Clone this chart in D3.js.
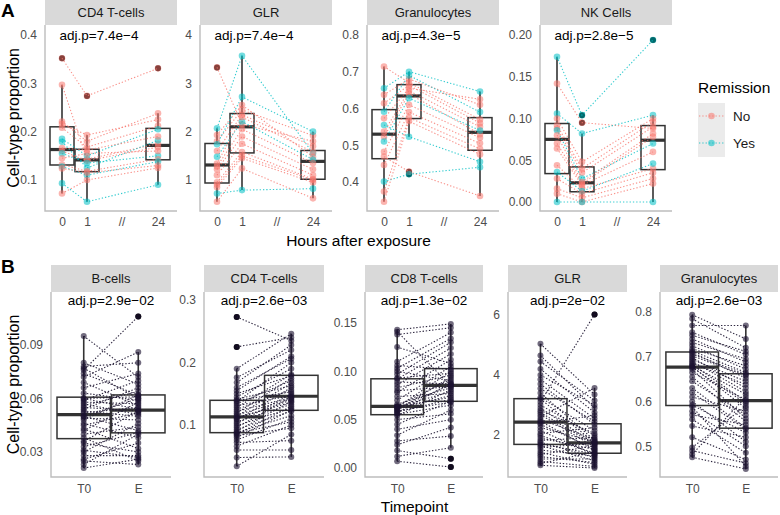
<!DOCTYPE html>
<html><head><meta charset="utf-8">
<script src="https://cdn.jsdelivr.net/npm/d3@7"></script>
<style>
body{margin:0;background:#fff}
svg{display:block}
text{font-family:"Liberation Sans",Arial,Helvetica,sans-serif}
</style>
</head><body>
<svg id="chart" width="780" height="515"></svg>
<script>
// ---------------- DATA ----------------
const remissionGroups = ["No", "Yes"];
const hoursA = [0, 1, 24];
const hourTickValuesA = [0, 1, 12.2, 24];
const hourLabelsA = ["0", "1", "//", "24"];
const cellTypesA = ["CD4 T-cells", "GLR", "Granulocytes", "NK Cells"];
const adjPA = ["adj.p=7.4e\u22124", "adj.p=7.4e\u22124", "adj.p=4.3e\u22125", "adj.p=2.8e\u22125"];
const ticksA = [[0.1, 0.2, 0.3, 0.4], [1, 2, 3, 4], [0.4, 0.5, 0.6, 0.7, 0.8], [0, 0.05, 0.1, 0.15, 0.2]];

const cd4A_remission = ["No","No","No","No","No","Yes","Yes","No","No","Yes","No","No","Yes","No","Yes","No"];
const cd4A_0h  = [0.352,0.297,0.221,0.216,0.208,0.185,0.179,0.166,0.160,0.155,0.145,0.132,0.128,0.124,0.093,0.072];
const cd4A_1h  = [0.274,0.143,0.180,0.193,0.168,0.150,0.125,0.162,0.140,0.135,0.155,0.118,0.110,0.115,0.055,0.100];
const cd4A_24h = [0.331,0.175,0.238,0.225,0.212,0.205,0.182,0.190,0.168,0.150,0.160,0.143,0.138,0.130,0.090,0.125];

const glrA_remission = ["No","Yes","No","No","Yes","No","Yes","No","No","No","No","No","No","No","Yes","No"];
const glrA_0h  = [3.33,2.07,1.93,1.80,1.74,1.60,1.48,1.34,1.28,1.22,1.10,0.95,0.90,0.85,0.72,0.55];
const glrA_1h  = [2.15,3.57,2.55,2.45,2.72,2.35,2.21,2.30,2.05,1.90,1.75,1.58,1.50,1.45,0.79,1.24];
const glrA_24h = [1.80,1.55,1.48,1.92,2.00,1.70,1.42,1.58,1.35,1.22,1.10,1.02,1.00,0.95,0.82,0.62];

const granA_remission = ["No","Yes","No","No","Yes","No","Yes","No","No","Yes","No","No","No","Yes","No","No"];
const granA_0h  = [0.714,0.655,0.637,0.614,0.591,0.573,0.555,0.537,0.523,0.510,0.482,0.469,0.446,0.401,0.374,0.346];
const granA_1h  = [0.670,0.700,0.680,0.663,0.690,0.655,0.523,0.648,0.640,0.628,0.610,0.428,0.590,0.421,0.575,0.565];
const granA_24h = [0.570,0.646,0.610,0.560,0.590,0.625,0.455,0.550,0.530,0.540,0.520,0.362,0.505,0.440,0.490,0.475];

const nkA_remission = ["Yes","No","Yes","No","No","No","Yes","No","No","No","No","Yes","No","No","No","Yes"];
const nkA_0h  = [0.174,0.142,0.106,0.100,0.092,0.088,0.086,0.080,0.070,0.064,0.044,0.036,0.028,0.016,0.010,0.000];
const nkA_1h  = [0.104,0.095,0.082,0.048,0.040,0.035,0.028,0.024,0.022,0.020,0.016,0.013,0.010,0.005,0.000,0.000];
const nkA_24h = [0.194,0.088,0.104,0.100,0.096,0.090,0.070,0.082,0.078,0.060,0.040,0.046,0.035,0.028,0.022,0.000];

const timepointsB = ["T0", "E"];
const cellTypesB = ["B-cells", "CD4 T-cells", "CD8 T-cells", "GLR", "Granulocytes"];
const adjPB = ["adj.p=2.9e\u221202", "adj.p=2.6e\u221203", "adj.p=1.3e\u221202", "adj.p=2e\u221202", "adj.p=2.6e\u221203"];
const ticksB = [[0.03, 0.06, 0.09], [0.1, 0.2, 0.3], [0, 0.05, 0.1, 0.15], [2, 4, 6], [0.5, 0.6, 0.7, 0.8]];

const bcellsB_T0 = [0.021,0.023,0.025,0.026,0.028,0.030,0.031,0.033,0.035,0.036,0.038,0.040,0.042,0.043,0.045,0.046,0.048,0.049,0.050,0.050,0.052,0.053,0.054,0.055,0.056,0.057,0.058,0.059,0.060,0.060,0.063,0.066,0.069,0.072,0.074,0.076,0.077,0.078,0.080,0.095];
const bcellsB_E  = [0.026,0.040,0.023,0.035,0.028,0.046,0.027,0.041,0.030,0.053,0.025,0.044,0.058,0.032,0.052,0.038,0.062,0.048,0.042,0.060,0.055,0.050,0.066,0.053,0.064,0.051,0.057,0.070,0.054,0.061,0.059,0.074,0.056,0.086,0.062,0.106,0.060,0.080,0.068,0.072];

const cd4B_T0 = [0.034,0.048,0.060,0.066,0.072,0.076,0.080,0.083,0.085,0.087,0.088,0.090,0.093,0.096,0.099,0.102,0.105,0.108,0.110,0.112,0.114,0.116,0.119,0.122,0.125,0.128,0.131,0.134,0.137,0.139,0.141,0.145,0.150,0.155,0.160,0.168,0.176,0.190,0.225,0.273];
const cd4B_E  = [0.085,0.049,0.060,0.100,0.075,0.110,0.124,0.095,0.130,0.105,0.115,0.138,0.122,0.145,0.127,0.150,0.133,0.160,0.140,0.136,0.167,0.142,0.175,0.144,0.156,0.181,0.147,0.171,0.200,0.153,0.163,0.190,0.179,0.210,0.206,0.228,0.220,0.246,0.240,0.235];

const cd8B_T0 = [0.007,0.012,0.018,0.024,0.028,0.034,0.040,0.045,0.050,0.054,0.0555,0.057,0.058,0.059,0.060,0.061,0.062,0.063,0.063,0.0635,0.064,0.066,0.070,0.074,0.078,0.080,0.083,0.086,0.089,0.092,0.093,0.097,0.100,0.103,0.106,0.110,0.125,0.138,0.141,0.143];
const cd8B_E  = [0.001,0.021,0.0096,0.042,0.033,0.060,0.050,0.0693,0.056,0.081,0.065,0.088,0.071,0.068,0.094,0.075,0.086,0.100,0.079,0.073,0.092,0.083,0.105,0.077,0.112,0.084,0.096,0.118,0.087,0.124,0.098,0.130,0.090,0.134,0.102,0.140,0.108,0.145,0.085,0.149];

const glrB_T0 = [0.99,1.05,1.12,1.20,1.28,1.35,1.42,1.50,1.58,1.65,1.70,1.76,1.82,1.90,1.98,2.05,2.15,2.25,2.35,2.40,2.46,2.52,2.60,2.68,2.75,2.82,2.90,3.00,3.10,3.20,3.25,3.40,3.55,3.70,3.85,4.00,4.20,4.45,4.65,5.04];
const glrB_E  = [0.90,1.44,0.95,1.20,1.08,1.64,1.02,1.30,1.73,1.14,1.37,1.25,1.92,1.52,1.40,2.25,1.34,1.78,1.56,2.65,1.48,1.86,3.57,1.60,1.68,2.05,1.71,1.98,6.02,1.75,2.15,1.82,2.45,2.35,2.55,3.00,2.75,3.15,2.90,3.35];

const granB_T0 = [0.475,0.482,0.490,0.497,0.520,0.545,0.560,0.570,0.578,0.588,0.592,0.600,0.610,0.620,0.630,0.645,0.655,0.665,0.672,0.676,0.678,0.680,0.683,0.686,0.690,0.694,0.698,0.702,0.706,0.710,0.713,0.718,0.725,0.732,0.740,0.748,0.755,0.770,0.785,0.794];
const granB_E  = [0.449,0.610,0.462,0.590,0.470,0.520,0.485,0.548,0.500,0.455,0.530,0.510,0.578,0.538,0.541,0.570,0.555,0.604,0.562,0.596,0.585,0.616,0.600,0.638,0.622,0.645,0.630,0.658,0.661,0.652,0.665,0.680,0.672,0.695,0.688,0.712,0.705,0.770,0.720,0.740];

// ---------------- BUILD ----------------
const facetsA = [
  {rem: cd4A_remission, series: [cd4A_0h, cd4A_1h, cd4A_24h], domain: [0.0358, 0.4207], fmt: d3.format(".1f")},
  {rem: glrA_remission, series: [glrA_0h, glrA_1h, glrA_24h], domain: [0.358, 4.207], fmt: d3.format("d")},
  {rem: granA_remission, series: [granA_0h, granA_1h, granA_24h], domain: [0.321, 0.827], fmt: d3.format(".1f")},
  {rem: nkA_remission, series: [nkA_0h, nkA_1h, nkA_24h], domain: [-0.0108, 0.212], fmt: d3.format(".2f")}
];
const facetsB = [
  {series: [bcellsB_T0, bcellsB_E], domain: [0.016, 0.1197], fmt: d3.format(".2f")},
  {series: [cd4B_T0, cd4B_E], domain: [0.0168, 0.3128], fmt: d3.format(".1f")},
  {series: [cd8B_T0, cd8B_E], domain: [-0.0093, 0.182], fmt: d3.format(".2f")},
  {series: [glrB_T0, glrB_E], domain: [0.6, 6.77], fmt: d3.format("d")},
  {series: [granB_T0, granB_E], domain: [0.431, 0.845], fmt: d3.format(".1f")}
];

const colour = d3.scaleOrdinal().domain(remissionGroups).range(["#F8766D", "#00BFC4"]);
const AXIS_COL = "#BDBDBD", TICK_TXT = "#4D4D4D", STRIP = "#D9D9D9", BOX = "#333333";
const svg = d3.select("#chart");

function boxStats(vals) {
  const s = vals.slice().sort(d3.ascending);
  const q1 = d3.quantileSorted(s, 0.25), med = d3.quantileSorted(s, 0.5), q3 = d3.quantileSorted(s, 0.75);
  const iqr = q3 - q1, lo = q1 - 1.5 * iqr, hi = q3 + 1.5 * iqr;
  const inside = s.filter(v => v >= lo && v <= hi);
  return {q1, med, q3, wlo: d3.min(inside), whi: d3.max(inside), out: s.filter(v => v < lo || v > hi)};
}

function drawBox(g, vals, cx, w, y) {
  const st = boxStats(vals);
  g.append("line").attr("x1", cx).attr("x2", cx).attr("y1", y(st.q3)).attr("y2", y(st.whi))
    .attr("stroke", BOX).attr("stroke-width", 1.6);
  g.append("line").attr("x1", cx).attr("x2", cx).attr("y1", y(st.q1)).attr("y2", y(st.wlo))
    .attr("stroke", BOX).attr("stroke-width", 1.6);
  g.append("rect").attr("x", cx - w / 2).attr("y", y(st.q3)).attr("width", w)
    .attr("height", y(st.q1) - y(st.q3)).attr("fill", "none").attr("stroke", BOX).attr("stroke-width", 1.5);
  g.append("line").attr("x1", cx - w / 2).attr("x2", cx + w / 2).attr("y1", y(st.med)).attr("y2", y(st.med))
    .attr("stroke", BOX).attr("stroke-width", 3.2);
  g.selectAll(null).data(st.out).enter().append("circle")
    .attr("cx", cx).attr("cy", d => y(d)).attr("r", 3).attr("fill", "#000");
}

function strip(L, W, top, h, label) {
  svg.append("rect").attr("x", L).attr("y", top).attr("width", W).attr("height", h).attr("fill", STRIP);
  svg.append("text").attr("x", L + W / 2).attr("y", top + h / 2).attr("dy", "0.35em")
    .attr("text-anchor", "middle").attr("font-size", 13).attr("fill", "#1A1A1A").text(label);
}

function axisLines(L, R, top, bot) {
  svg.append("path").attr("d", `M${L},${top}V${bot}H${R}`).attr("fill", "none")
    .attr("stroke", AXIS_COL).attr("stroke-width", 1.4);
}

function styleAxis(sel) {
  sel.select(".domain").remove();
  sel.selectAll("text").attr("font-size", 12).attr("fill", TICK_TXT)
    .attr("font-family", '"Liberation Sans",Arial,sans-serif');
}

// ---------------- PANEL A ----------------
const A_TOP = 25, A_BOT = 211, A_LEFTS = [45, 200, 367, 540], A_W = 132;
const lineGen = d3.line();

facetsA.forEach((f, i) => {
  const L = A_LEFTS[i], R = L + A_W;
  const x = d3.scaleLinear().domain([0, 1, 24]).range([L + 17, L + 42, L + 113]);
  const y = d3.scaleLinear().domain(f.domain).range([A_BOT, A_TOP]);
  strip(L, A_W, 0, 25, cellTypesA[i]);
  axisLines(L, R, A_TOP, A_BOT);
  svg.append("g").attr("transform", `translate(${L},0)`)
    .call(d3.axisLeft(y).tickValues(ticksA[i]).tickFormat(f.fmt).tickSize(0).tickPadding(8)).call(styleAxis);
  svg.append("g").attr("transform", `translate(0,${A_BOT})`)
    .call(d3.axisBottom(x).tickValues(hourTickValuesA).tickFormat((d, k) => hourLabelsA[k]).tickSize(0).tickPadding(6))
    .call(styleAxis);
  const g = svg.append("g");
  hoursA.forEach((h, j) => drawBox(g, f.series[j], x(h), 24, y));
  const n = f.rem.length;
  const subj = d3.range(n).map(k => ({rem: f.rem[k], pts: hoursA.map((h, j) => [x(h), y(f.series[j][k])])}));
  g.selectAll(null).data(subj).enter().append("path")
    .attr("d", d => lineGen(d.pts)).attr("fill", "none").attr("stroke", d => colour(d.rem))
    .attr("stroke-width", 1.1).attr("stroke-dasharray", "1.3,2").attr("opacity", 0.8);
  subj.forEach(s => {
    g.selectAll(null).data(s.pts).enter().append("circle")
      .attr("cx", p => p[0]).attr("cy", p => p[1]).attr("r", 3.3)
      .attr("fill", colour(s.rem)).attr("opacity", 0.55);
  });
  svg.append("text").attr("x", L + 54).attr("y", A_TOP + 10).attr("dy", "0.35em")
    .attr("text-anchor", "middle").attr("font-size", 13.5).attr("fill", "#000").text(adjPA[i]);
});

svg.append("text").attr("x", (A_LEFTS[0] + A_LEFTS[3] + A_W) / 2).attr("y", 241).attr("dy", "0.35em")
  .attr("text-anchor", "middle").attr("font-size", 15.5).attr("fill", "#000").text("Hours after exposure");
svg.append("text").attr("transform", `translate(13,${(A_TOP + A_BOT) / 2}) rotate(-90)`).attr("dy", "0.35em")
  .attr("text-anchor", "middle").attr("font-size", 16).attr("fill", "#000").text("Cell-type proportion");
svg.append("text").attr("x", 1).attr("y", 17).attr("font-size", 19).attr("font-weight", "bold").text("A");

// legend
const lg = svg.append("g");
lg.append("text").attr("x", 698).attr("y", 88).attr("dy", "0.35em").attr("font-size", 15.5).attr("fill", "#000").text("Remission");
lg.append("rect").attr("x", 698).attr("y", 103).attr("width", 27).attr("height", 54).attr("fill", "#EBEBEB");
remissionGroups.forEach((gname, k) => {
  const cy = 116 + k * 27;
  lg.append("line").attr("x1", 699).attr("x2", 724).attr("y1", cy).attr("y2", cy)
    .attr("stroke", colour(gname)).attr("stroke-width", 1.1).attr("stroke-dasharray", "1.3,2").attr("opacity", 0.8);
  lg.append("circle").attr("cx", 711.5).attr("cy", cy).attr("r", 3.3).attr("fill", colour(gname)).attr("opacity", 0.55);
  lg.append("text").attr("x", 733).attr("y", cy).attr("dy", "0.35em").attr("font-size", 13.5).attr("fill", "#1A1A1A").text(gname);
});

// ---------------- PANEL B ----------------
const B_TOP = 292, B_BOT = 477, B_STRIP = 265;
const B_LEFTS = [51, 204, 365, 508, 660], B_WS = [120, 120, 118, 119, 118];

facetsB.forEach((f, i) => {
  const L = B_LEFTS[i], W = B_WS[i], R = L + W;
  const x = d3.scalePoint().domain(timepointsB).range([L, R]).padding(0.6);
  const y = d3.scaleLinear().domain(f.domain).range([B_BOT, B_TOP]);
  strip(L, W, B_STRIP, B_TOP - B_STRIP, cellTypesB[i]);
  axisLines(L, R, B_TOP, B_BOT);
  svg.append("g").attr("transform", `translate(${L},0)`)
    .call(d3.axisLeft(y).tickValues(ticksB[i]).tickFormat(f.fmt).tickSize(0).tickPadding(8)).call(styleAxis);
  svg.append("g").attr("transform", `translate(0,${B_BOT})`)
    .call(d3.axisBottom(x).tickSize(0).tickPadding(7)).call(styleAxis);
  const g = svg.append("g");
  const bw = x.step() * 0.98;
  timepointsB.forEach((t, j) => drawBox(g, f.series[j], x(t), bw, y));
  const n = f.series[0].length;
  const subj = d3.range(n).map(k => timepointsB.map((t, j) => [x(t), y(f.series[j][k])]));
  g.selectAll(null).data(subj).enter().append("path")
    .attr("d", d => lineGen(d)).attr("fill", "none").attr("stroke", "#231B36")
    .attr("stroke-width", 1.1).attr("stroke-dasharray", "1.4,1.8").attr("opacity", 0.95);
  subj.forEach(s => {
    g.selectAll(null).data(s).enter().append("circle")
      .attr("cx", p => p[0]).attr("cy", p => p[1]).attr("r", 3)
      .attr("fill", "#1C1230").attr("opacity", 0.62);
  });
  svg.append("text").attr("x", (L + R) / 2).attr("y", B_TOP + 8).attr("dy", "0.35em")
    .attr("text-anchor", "middle").attr("font-size", 13.5).attr("fill", "#000").text(adjPB[i]);
});

svg.append("text").attr("x", (B_LEFTS[0] + B_LEFTS[4] + B_WS[4]) / 2).attr("y", 507).attr("dy", "0.35em")
  .attr("text-anchor", "middle").attr("font-size", 15.5).attr("fill", "#000").text("Timepoint");
svg.append("text").attr("transform", `translate(13,${(B_TOP + B_BOT) / 2}) rotate(-90)`).attr("dy", "0.35em")
  .attr("text-anchor", "middle").attr("font-size", 16).attr("fill", "#000").text("Cell-type proportion");
svg.append("text").attr("x", 1).attr("y", 273).attr("font-size", 19).attr("font-weight", "bold").text("B");
</script>
</body></html>
